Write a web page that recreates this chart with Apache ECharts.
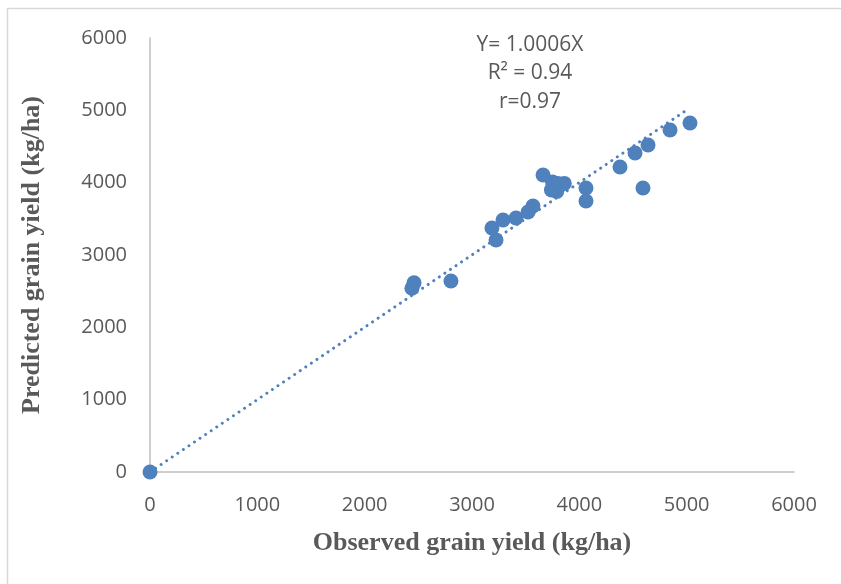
<!DOCTYPE html>
<html>
<head>
<meta charset="utf-8">
<script src="https://cdn.jsdelivr.net/npm/echarts@6/dist/echarts.min.js"></script>
<style>html,body{margin:0;padding:0;background:#fff}#c{width:841px;height:584px}</style>
</head>
<body>
<div id="c"></div>
<script>
const observed = [0, 2440, 2460, 2804, 3186, 3224, 3289, 3410, 3522, 3568, 3662, 3750, 3800, 3860, 3790, 3740, 3760, 4062, 4062, 4379, 4593, 4519, 4640, 4845, 5031];
const predicted = [0, 2540, 2615, 2641, 3373, 3208, 3484, 3512, 3595, 3678, 4106, 4010, 3990, 3990, 3880, 3900, 3940, 3926, 3747, 4217, 3926, 4410, 4521, 4728, 4825];
const trendX = [0, 5000];
const slope = 1.0006;
const xTicks = [0, 1000, 2000, 3000, 4000, 5000, 6000];
const yTicks = [0, 1000, 2000, 3000, 4000, 5000, 6000];
const eqLines = ['Y= 1.0006X', 'R\u00B2 = 0.94', 'r=0.97'];

const points = observed.map((x, i) => [x, predicted[i]]);
const trend = trendX.map(x => [x, slope * x]);
const blue = '#4F81BD';
const chart = echarts.init(document.getElementById('c'), null, {renderer: 'canvas'});
chart.setOption({
  animation: false,
  backgroundColor: '#fff',
  grid: {left: 150, right: 47, top: 38, bottom: 112, containLabel: false},
  xAxis: {
    type: 'value', min: xTicks[0], max: xTicks[xTicks.length - 1], interval: 1000,
    name: 'Observed grain yield (kg/ha)', nameLocation: 'middle', nameGap: 58,
    nameTextStyle: {fontFamily: 'Liberation Serif', fontWeight: 'bold', fontSize: 26, color: '#595959'},
    axisLine: {show: true, lineStyle: {color: '#BFBFBF', width: 1.5}},
    axisTick: {show: false}, splitLine: {show: false},
    axisLabel: {fontFamily: 'Open Sans', fontSize: 20, color: '#595959', margin: 23, formatter: v => String(v)}
  },
  yAxis: {
    type: 'value', min: yTicks[0], max: yTicks[yTicks.length - 1], interval: 1000,
    name: 'Predicted grain yield (kg/ha)', nameLocation: 'middle', nameGap: 105, nameRotate: 90,
    nameTextStyle: {fontFamily: 'Liberation Serif', fontWeight: 'bold', fontSize: 26, color: '#595959'},
    axisLine: {show: true, lineStyle: {color: '#BFBFBF', width: 1.5}},
    axisTick: {show: false}, splitLine: {show: false},
    axisLabel: {fontFamily: 'Open Sans', fontSize: 20, color: '#595959', margin: 23, formatter: v => String(v)}
  },
  series: [
    {
      type: 'line', data: trend, showSymbol: false, symbol: 'none', z: 1,
      lineStyle: {color: blue, width: 3, type: [0.01, 6.7], cap: 'round'}
    },
    {
      type: 'scatter', data: points, symbol: 'circle', symbolSize: 15, z: 2,
      itemStyle: {color: blue, opacity: 1}
    }
  ],
  graphic: [
    {type: 'rect', shape: {x: 7.5, y: 8.5, width: 900, height: 700}, style: {fill: 'none', stroke: '#D9D9D9', lineWidth: 1.5}, silent: true},
    ...eqLines.map((t, i) => ({
      type: 'text', x: 530, y: 45 + i * 28.5,
      style: {text: t, fontFamily: 'Open Sans', fontSize: 21, fill: '#595959', align: 'center', verticalAlign: 'middle'}
    }))
  ]
});
</script>
</body>
</html>
